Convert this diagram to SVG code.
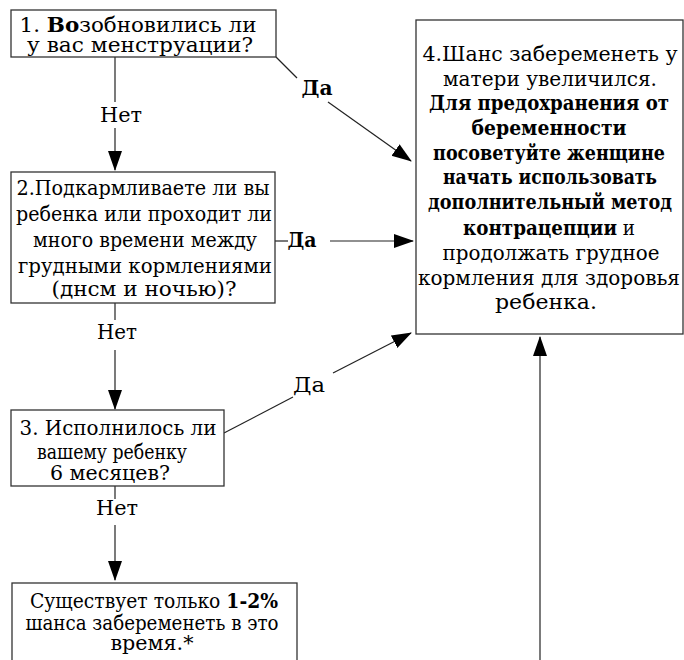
<svg xmlns="http://www.w3.org/2000/svg" width="684" height="660" viewBox="0 0 684 660">
<defs>
<marker id="ah" markerUnits="userSpaceOnUse" markerWidth="20" markerHeight="16" refX="19" refY="8" orient="auto">
<path d="M0,1 L20,8 L0,15 Z" fill="#000"/>
</marker>
<style>
.box{fill:#fff;stroke:#333;stroke-width:1.3}
.t{font-family:"DejaVu Serif",serif;font-size:20px;fill:#000;text-anchor:middle}
.b{font-weight:bold}
.ln{stroke:#222;stroke-width:1.2;fill:none}
.ar{marker-end:url(#ah)}
</style>
</defs>
<rect width="684" height="660" fill="#fff"/>
<g id="connectors">
<line class="ln" x1="115" y1="57" x2="115" y2="102"/>
<line class="ln ar" x1="115" y1="128" x2="115" y2="170"/>
<line class="ln" x1="276" y1="57" x2="297" y2="78"/>
<line class="ln ar" x1="328" y1="102" x2="411" y2="161"/>
<line class="ln" x1="275" y1="241" x2="288" y2="241"/>
<line class="ln ar" x1="330" y1="241" x2="413" y2="241"/>
<line class="ln" x1="115" y1="303" x2="115" y2="320"/>
<line class="ln ar" x1="115" y1="350" x2="115" y2="409"/>
<line class="ln" x1="224" y1="433" x2="293" y2="397"/>
<line class="ln ar" x1="333" y1="373" x2="411" y2="333"/>
<line class="ln" x1="115" y1="486" x2="115" y2="499"/>
<line class="ln ar" x1="115" y1="525" x2="115" y2="580"/>
<line class="ln ar" x1="540" y1="660" x2="540" y2="337"/>
<text class="t" x="121" y="122" textLength="42" lengthAdjust="spacingAndGlyphs">Нет</text>
<text class="t b" x="317" y="95" textLength="31" lengthAdjust="spacingAndGlyphs">Да</text>
<text class="t b" x="302" y="247" textLength="29" lengthAdjust="spacingAndGlyphs">Да</text>
<text class="t" x="117" y="339" textLength="40" lengthAdjust="spacingAndGlyphs">Нет</text>
<text class="t" x="309" y="392" textLength="32" lengthAdjust="spacingAndGlyphs">Да</text>
<text class="t" x="117" y="515" textLength="42" lengthAdjust="spacingAndGlyphs">Нет</text>
</g>
<g id="n1">
<rect class="box" x="11" y="10" width="265" height="47"/>
<text class="t" x="138" y="32" textLength="237" lengthAdjust="spacingAndGlyphs">1. <tspan class="b">Во</tspan>зобновились ли</text>
<text class="t" x="140" y="52" textLength="226" lengthAdjust="spacingAndGlyphs">у вас  менструации?</text>
</g>
<g id="n2">
<rect class="box" x="11" y="172" width="264" height="131"/>
<text class="t" x="143" y="195" textLength="253" lengthAdjust="spacingAndGlyphs">2.Подкармливаете ли вы</text>
<text class="t" x="144" y="221" textLength="256" lengthAdjust="spacingAndGlyphs">ребенка или проходит ли</text>
<text class="t" x="145" y="247" textLength="224" lengthAdjust="spacingAndGlyphs">много времени между</text>
<text class="t" x="145" y="273" textLength="254" lengthAdjust="spacingAndGlyphs">грудными кормлениями</text>
<text class="t" x="144" y="296" textLength="185" lengthAdjust="spacingAndGlyphs">(днсм и ночью)?</text>
</g>
<g id="n3">
<rect class="box" x="11" y="410" width="213" height="76"/>
<text class="t" x="118" y="435" textLength="197" lengthAdjust="spacingAndGlyphs">3.   Исполнилось ли</text>
<text class="t" x="112" y="459" textLength="150" lengthAdjust="spacingAndGlyphs">вашему ребенку</text>
<text class="t" x="110" y="480" textLength="120" lengthAdjust="spacingAndGlyphs">6 месяцев?</text>
</g>
<g id="n4">
<rect class="box" x="416" y="20" width="267" height="314"/>
<text class="t" x="550" y="61" textLength="255" lengthAdjust="spacingAndGlyphs">4.Шанс  забеременеть у</text>
<text class="t" x="550" y="86" textLength="214" lengthAdjust="spacingAndGlyphs">матери увеличился.</text>
<text class="t b" x="549" y="110" textLength="240" lengthAdjust="spacingAndGlyphs">Для предохранения от</text>
<text class="t b" x="549" y="135" textLength="155" lengthAdjust="spacingAndGlyphs">беременности</text>
<text class="t b" x="549" y="160" textLength="232" lengthAdjust="spacingAndGlyphs">посоветуйте женщине</text>
<text class="t b" x="550" y="184" textLength="214" lengthAdjust="spacingAndGlyphs">начать использовать</text>
<text class="t b" x="550" y="209" textLength="244" lengthAdjust="spacingAndGlyphs">дополнительный метод</text>
<text class="t" x="549" y="235" textLength="172" lengthAdjust="spacingAndGlyphs"><tspan class="b">контрацепции</tspan> и</text>
<text class="t" x="551" y="260" textLength="217" lengthAdjust="spacingAndGlyphs">продолжать грудное</text>
<text class="t" x="549" y="285" textLength="262" lengthAdjust="spacingAndGlyphs">кормления для здоровья</text>
<text class="t" x="546" y="309" textLength="102" lengthAdjust="spacingAndGlyphs">ребенка.</text>
</g>
<g id="n5">
<rect class="box" x="12" y="583" width="285" height="90"/>
<text class="t" x="154" y="608" textLength="248" lengthAdjust="spacingAndGlyphs">Существует только <tspan class="b">1-2%</tspan></text>
<text class="t" x="152" y="630" textLength="253" lengthAdjust="spacingAndGlyphs">шанса забеременеть в это</text>
<text class="t" x="152" y="650" textLength="83" lengthAdjust="spacingAndGlyphs">время.*</text>
</g>
</svg>
